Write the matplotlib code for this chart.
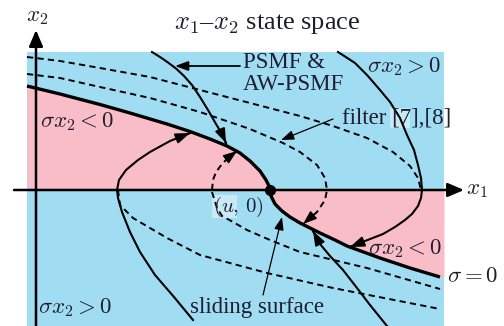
import numpy as np
import matplotlib.pyplot as plt
from matplotlib.patches import Rectangle

plt.rcParams['font.family'] = 'serif'
plt.rcParams['font.serif'] = ['Liberation Serif', 'DejaVu Serif']
plt.rcParams['mathtext.fontset'] = 'cm'

# schematic coordinates: origin where the x1 and x2 axes cross, (u, 0) at x = 234
u = 234
box_x = [-9, 408]
box_y = [-136, 138]

# sliding surface sigma = 0
sigma_x = [-9, 24, 64, 94, 131, 154, 174, 191, 204, 214, 224, 230, 233, 234,
           235, 239, 246, 254, 264, 274, 284, 299, 311, 344, 374, 404]
sigma_y = [104, 96, 85.5, 77, 66, 58.5, 51, 44, 37, 29, 19, 10, 4, 0,
           -6, -14, -21, -27, -33, -38, -43, -50, -56, -68, -78, -87]

# solid trajectories (PSMF & AW-PSMF)
s1_x = [116, 124, 132, 140, 148, 156, 164, 172, 180, 186, 190]
s1_y = [138, 133, 127.5, 121.5, 114, 105, 93, 80, 66, 56, 47]
s2_x = [302, 319, 331, 344, 354, 364, 371, 378, 382, 385, 386,
        385, 382, 376, 369, 359, 347, 329, 314]
s2_y = [138, 127, 115, 100, 88, 72, 55, 40, 25, 12, 0,
        -8, -16, -24, -30, -37, -44, -51, -57]
s3_x = [157, 138, 119, 104, 94, 86, 82, 81, 83, 90, 102, 114, 134, 154]
s3_y = [-130, -107, -85, -62, -42, -22, -8, 0, 10, 20, 30, 38, 49, 57]
s4_x = [351, 334, 321, 307, 294, 284, 277]
s4_y = [-136, -115, -98, -80, -66, -54, -41]

# dashed trajectories (filter [7],[8])
d1_x = [-9, 24, 64, 114, 164, 214, 264, 297, 331, 357, 374, 382, 385]
d1_y = [133, 129, 122, 113, 100, 87, 74, 64, 52, 38, 24, 12, 0]
d2_x = [-9, 24, 64, 114, 164, 214, 247, 264, 281, 289, 291, 289, 281, 267]
d2_y = [116, 112, 103, 92, 78, 61, 47, 38, 25, 12, 0, -10, -22, -34]
d3_x = [176, 177, 180, 186, 193, 201]
d3_y = [0, 10, 18, 26, 33, 39]
d4_x = [176, 181, 186, 197, 211, 234, 264, 331, 404]
d4_y = [-2, -18, -26, -32, -40, -50, -62, -78, -99]
d5_x = [82, 84, 97, 131, 164, 231, 297, 404]
d5_y = [0, -15, -28, -48, -65, -83, -98, -119]

blue = '#a0dcf2'
pink = '#f8bdc6'
ink = '#1e1e30'
dash = (0, (3.2, 2.2))

fig = plt.figure(figsize=(5.04, 3.26), dpi=100)
ax = fig.add_axes([0, 0, 1, 1])
ax.set_xlim(-36, 468)
ax.set_ylim(-136, 190)
ax.axis('off')

ax.add_patch(Rectangle((box_x[0], box_y[0]), box_x[1] - box_x[0],
                       box_y[1] - box_y[0], color=blue, lw=0, zorder=0))

sx = np.array(sigma_x)
sy = np.array(sigma_y)
left = sx <= u
ax.fill_between(sx[left], sy[left], 0, color=pink, lw=0, zorder=1)
rx = np.append(sx[sx >= u], box_x[1])
ry = np.append(sy[sx >= u], sy[-1])
ax.fill_between(rx, ry, 0, color=pink, lw=0, zorder=1)

# little highlight boxes seen in the source
ax.add_patch(Rectangle((354, 62), 20, 20, color='#c6e9f6', lw=0, zorder=1))
ax.add_patch(Rectangle((176, -28), 25, 23, color='#c9e9f5', lw=0, zorder=1))


def head(xs, ys, lw=1.4):
    x0, y0 = xs[-1], ys[-1]
    dx, dy = x0 - xs[-2], y0 - ys[-2]
    ax.annotate('', xy=(x0, y0), xytext=(x0 - 0.01 * dx, y0 - 0.01 * dy),
                arrowprops=dict(arrowstyle='-|>,head_length=0.6,head_width=0.22',
                                color='k', lw=lw, mutation_scale=14,
                                shrinkA=0, shrinkB=0), zorder=5)


for xs, ys in [(s1_x, s1_y), (s2_x, s2_y), (s3_x, s3_y), (s4_x, s4_y)]:
    ax.plot(xs, ys, color='k', lw=1.5, zorder=3, solid_joinstyle='round')
    head(xs, ys)

for xs, ys in [(d1_x, d1_y), (d2_x, d2_y), (d3_x, d3_y), (d4_x, d4_y), (d5_x, d5_y)]:
    ax.plot(xs, ys, color='k', lw=1.4, ls=dash, zorder=3)
head(d2_x, d2_y, lw=1.0)
head(d3_x, d3_y, lw=1.0)

ax.plot(sigma_x, sigma_y, color='k', lw=2.4, zorder=4, solid_capstyle='butt',
        solid_joinstyle='round')
ax.plot([u], [0], 'o', color='k', ms=7, zorder=6)

# state axes
axis_head = dict(arrowstyle='-|>,head_length=0.7,head_width=0.3', color='k',
                 lw=1.8, mutation_scale=14, shrinkA=0, shrinkB=0)
ax.annotate('', xy=(428, 0), xytext=(-22, 0), arrowprops=axis_head, zorder=4)
ax.annotate('', xy=(0, 160), xytext=(0, -136), arrowprops=axis_head, zorder=4)

# pointer arrows for the labels
thin = dict(arrowstyle='-|>,head_length=0.6,head_width=0.22', color='k',
            mutation_scale=13, shrinkA=0, shrinkB=0)
ax.annotate('', xy=(139, 124), xytext=(204, 124),
            arrowprops=dict(thin, lw=1.3), zorder=5)
ax.annotate('', xy=(245, 50), xytext=(297, 71),
            arrowprops=dict(thin, lw=0.9), zorder=5)
ax.annotate('', xy=(246, -27), xytext=(227, -105),
            arrowprops=dict(thin, lw=0.9), zorder=5)

fs = 16.5
ax.text(231, 166, r'$x_1$–$x_2$ state space', fontsize=19, color=ink,
        ha='center', va='center')
ax.text(1, 174, r'$x_2$', fontsize=fs, color=ink, ha='center', va='center')
ax.text(430, 1, r'$x_1$', fontsize=fs, color=ink, ha='left', va='center')
ax.text(207, 127, 'PSMF &', fontsize=fs, color=ink, ha='left', va='center', zorder=6)
ax.text(207, 105, 'AW-PSMF', fontsize=fs, color=ink, ha='left', va='center', zorder=6)
ax.text(306, 72, 'filter [7],[8]', fontsize=fs, color=ink, ha='left', va='center', zorder=6)
ax.text(4, 68, r'$\sigma x_2 < 0$', fontsize=fs, color=ink, ha='left', va='center', zorder=6)
ax.text(331, 123, r'$\sigma x_2 > 0$', fontsize=fs, color=ink, ha='left', va='center', zorder=6)
ax.text(332, -59, r'$\sigma x_2 < 0$', fontsize=fs, color=ink, ha='left', va='center', zorder=6)
ax.text(2, -118, r'$\sigma x_2 > 0$', fontsize=fs, color=ink, ha='left', va='center', zorder=6)
ax.text(411, -87, r'$\sigma = 0$', fontsize=fs, color=ink, ha='left', va='center', zorder=6)
ax.text(154, -117, 'sliding surface', fontsize=fs, color=ink, ha='left', va='center', zorder=6)
ax.text(177, -17, r'$(u,\,0)$', fontsize=15, color=ink, ha='left', va='center', zorder=6)

fig.savefig('out.png', dpi=100)
